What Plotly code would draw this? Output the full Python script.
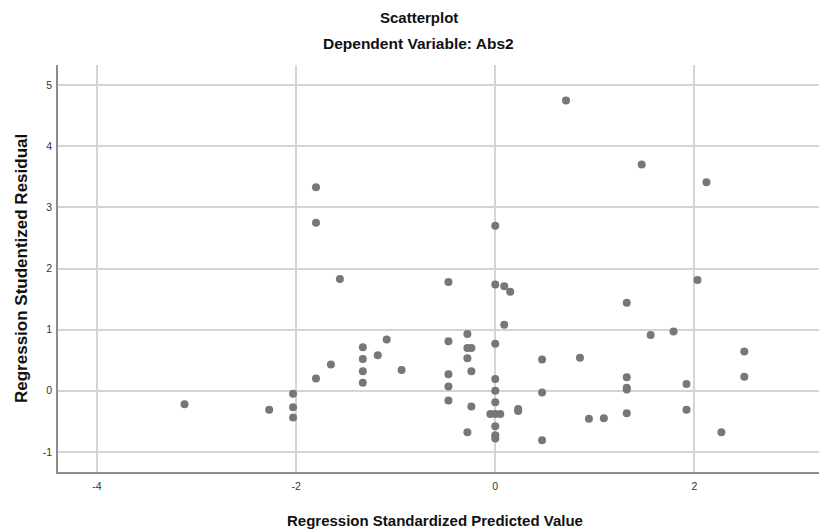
import plotly.graph_objects as go

# Regression standardized predicted value (x) and studentized residual (y)
pred = [-1.80, -1.80, -1.56, -0.47, -1.09, -1.33, -1.18, -1.33, -1.65, -0.94,
        -1.33, -1.80, -1.33, -0.47, -0.47, -0.47, -0.47, -2.03, -2.03, -2.03,
        -3.12, -2.27,
        0.71, 1.47, 2.12, 0.00, 0.00, 0.09, 0.15, 2.03, 1.32, 0.09, -0.28,
        0.00, -0.28, -0.24, 1.56, 1.79, 2.50, -0.28, 0.47, 0.85, -0.24,
        0.00, 1.32, 2.50, 1.92, 0.00, 1.32, 1.32, 0.47, 0.00, -0.24,
        -0.05, 0.00, 0.05, 0.23, 0.23, 0.94, 1.09, 1.32, 1.92, -0.28, 0.00,
        0.00, 0.00, 0.47, 2.27]
resid = [3.33, 2.75, 1.83, 1.78, 0.84, 0.71, 0.58, 0.52, 0.43, 0.34,
         0.32, 0.20, 0.13, 0.81, 0.27, 0.07, -0.16, -0.05, -0.27, -0.44,
         -0.22, -0.31,
         4.75, 3.70, 3.41, 2.70, 1.74, 1.71, 1.62, 1.81, 1.44, 1.08, 0.93,
         0.77, 0.70, 0.70, 0.91, 0.97, 0.64, 0.53, 0.51, 0.54, 0.32,
         0.19, 0.22, 0.23, 0.11, 0.00, 0.05, 0.02, -0.03, -0.19, -0.26,
         -0.38, -0.38, -0.38, -0.30, -0.33, -0.46, -0.45, -0.37, -0.31, -0.68, -0.58,
         -0.73, -0.78, -0.81, -0.68]

x_ticks = [-4, -2, 0, 2]
y_ticks = [-1, 0, 1, 2, 3, 4, 5]

title = "Scatterplot"
subtitle = "Dependent Variable: Abs2"
x_title = "Regression Standardized Predicted Value"
y_title = "Regression Studentized Residual"

font = "Liberation Sans, Arial, sans-serif"

W, H = 819, 530
ML, MR, MT, MB = 58, 0, 65, 58

fig = go.Figure()
fig.add_trace(go.Scatter(
    x=pred, y=resid, mode="markers",
    marker=dict(size=8, color="#777777", line=dict(width=0)),
    showlegend=False, hoverinfo="x+y",
))


def px_to_paper(px, py):
    return (px - ML) / (W - ML - MR), (H - py - MB) / (H - MT - MB)


def label(text, px, py, size, angle=0):
    x, y = px_to_paper(px, py)
    return dict(text=text, x=x, y=y, xref="paper", yref="paper",
                xanchor="center", yanchor="middle", showarrow=False,
                textangle=angle,
                font=dict(size=size, family=font, color="#111111"))


fig.update_layout(
    width=W, height=H,
    margin=dict(l=ML, r=MR, t=MT, b=MB),
    paper_bgcolor="white", plot_bgcolor="white",
    font=dict(family=font, color="#222222"),
    xaxis=dict(
        range=[-4.39, 3.25], tickvals=x_ticks, ticktext=[str(v) for v in x_ticks],
        showgrid=True, gridcolor="#d4d4d4", gridwidth=1.5,
        zeroline=False, showline=True, linecolor="#8c8c8c", linewidth=1.5,
        ticks="", tickfont=dict(size=10.5, color="#333333"),
        ticklabelstandoff=4,
    ),
    yaxis=dict(
        range=[-1.33, 5.33], tickvals=y_ticks, ticktext=[str(v) for v in y_ticks],
        showgrid=True, gridcolor="#d4d4d4", gridwidth=1.5,
        zeroline=False, showline=True, linecolor="#8c8c8c", linewidth=1.5,
        ticks="", tickfont=dict(size=10.5, color="#333333"),
        ticklabelstandoff=2,
    ),
    annotations=[
        label("<b>" + title + "</b>", 419, 18, 15),
        label("<b>" + subtitle + "</b>", 418, 44, 15.5),
        label("<b>" + x_title + "</b>", 435, 520, 15),
        label("<b>" + y_title + "</b>", 21, 269, 17, angle=-90),
    ],
)

fig.write_html("out.html")
